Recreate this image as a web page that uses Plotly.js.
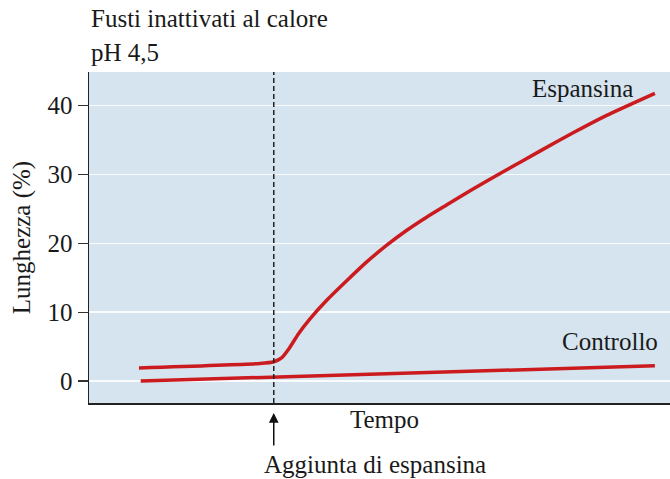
<!DOCTYPE html>
<html>
<head>
<meta charset="utf-8">
<script src="https://cdn.plot.ly/plotly-3.0.1.min.js"></script>
<style>
  body { margin: 0; background: #fff; }
  #chart { width: 670px; height: 479px; }
</style>
</head>
<body>
<div id="chart"></div>
<script>
// Tempo (unità arbitrarie) e lunghezza (%)
const espTime = [8.6, 29.4, 31.8, 33.2, 34.5, 36.0, 38.0, 41.0, 44.4, 47.8, 51.2, 54.7, 58.1, 61.6, 66.1, 71.9, 77.6, 83.4, 89.1, 97.4];
const espLength = [1.9, 2.55, 2.8, 3.4, 4.8, 6.8, 9.0, 11.8, 14.6, 17.3, 19.7, 21.9, 23.8, 25.6, 27.9, 30.7, 33.4, 36.1, 38.6, 41.8];

const ctrlTime = [8.9, 31.8, 97.4];
const ctrlLength = [0, 0.6, 2.2];

const additionTime = [31.8];
const yTicks = [0, 10, 20, 30, 40];

const lineRed = '#cc1b1f';
const serif = "'Liberation Serif', 'Times New Roman', serif";

const data = [
    {
        x: espTime,
        y: espLength,
        type: 'scatter',
        mode: 'lines',
        line: {color: lineRed, width: 3.5, shape: 'spline', smoothing: 0.5},
        name: 'Espansina'
    },
    {
        x: ctrlTime,
        y: ctrlLength,
        type: 'scatter',
        mode: 'lines',
        line: {color: lineRed, width: 3.5},
        name: 'Controllo'
    }
];

const layout = {
    width: 670,
    height: 479,
    showlegend: false,
    margin: {l: 89, r: 0, t: 72, b: 76},
    paper_bgcolor: '#ffffff',
    plot_bgcolor: '#d5e4ee',
    font: {family: serif, size: 25, color: '#1a1a1a'},
    xaxis: {
        range: [0, 100],
        showgrid: false,
        zeroline: false,
        showticklabels: false,
        ticks: '',
        showline: true,
        linecolor: '#222',
        linewidth: 1.5
    },
    yaxis: {
        range: [-3.2, 44.9],
        tickvals: yTicks,
        ticktext: yTicks.map(String),
        ticks: 'outside',
        ticklen: 10,
        tickwidth: 1.2,
        tickcolor: '#333',
        tickfont: {family: serif, size: 25, color: '#1a1a1a'},
        showgrid: true,
        gridcolor: 'rgba(255,255,255,0.85)',
        gridwidth: 1.5,
        zeroline: false,
        showline: true,
        linecolor: '#222',
        linewidth: 1.5,
        title: {text: 'Lunghezza (%)', font: {family: serif, size: 25}, standoff: 10}
    },
    shapes: [{
        type: 'line',
        xref: 'x', yref: 'paper',
        x0: additionTime[0], x1: additionTime[0],
        y0: 0, y1: 1,
        line: {color: '#222', width: 1.5, dash: '5px,3px'}
    }],
    annotations: [
        {xref: 'paper', yref: 'paper', x: 0, y: 1.163, xanchor: 'left', yanchor: 'middle',
         text: 'Fusti inattivati al calore', showarrow: false},
        {xref: 'paper', yref: 'paper', x: 0, y: 1.06, xanchor: 'left', yanchor: 'middle',
         text: 'pH 4,5', showarrow: false},
        {xref: 'x', yref: 'y', x: 85.0, y: 42.5, xanchor: 'center', yanchor: 'middle',
         text: 'Espansina', showarrow: false},
        {xref: 'x', yref: 'y', x: 89.7, y: 5.8, xanchor: 'center', yanchor: 'middle',
         text: 'Controllo', showarrow: false},
        {xref: 'x', yref: 'paper', x: 50.9, y: -0.051, xanchor: 'center', yanchor: 'middle',
         text: 'Tempo', showarrow: false},
        {xref: 'x', yref: 'paper', x: 49.2, y: -0.187, xanchor: 'center', yanchor: 'middle',
         text: 'Aggiunta di espansina', showarrow: false},
        {xref: 'x', yref: 'paper', x: additionTime[0], y: -0.03, text: '',
         showarrow: true, arrowhead: 2, arrowsize: 1.3, arrowwidth: 1.5, arrowcolor: '#111',
         ax: 0, ay: 34}
    ]
};

Plotly.newPlot('chart', data, layout, {displayModeBar: false, staticPlot: true});
</script>
</body>
</html>
